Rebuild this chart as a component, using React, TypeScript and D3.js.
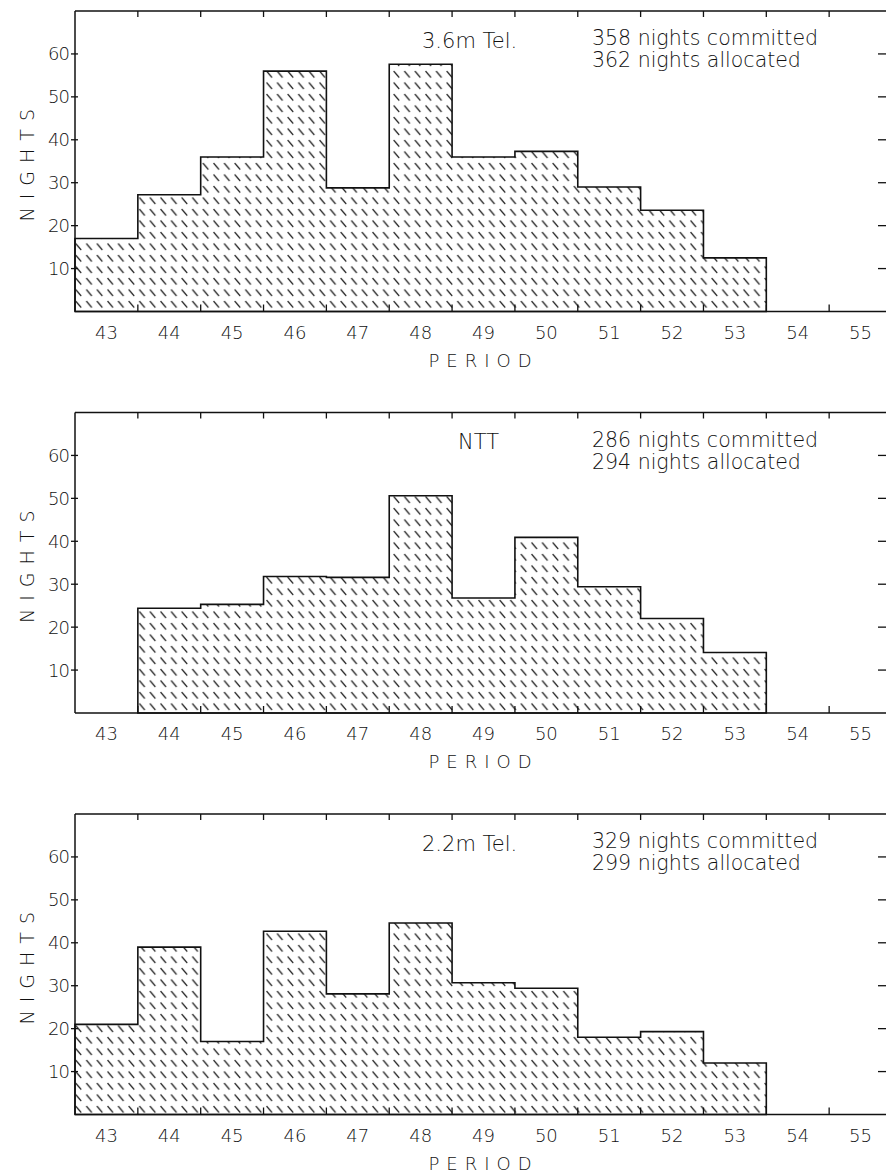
import React from "react";
import * as d3 from "d3";

const periods = [43, 44, 45, 46, 47, 48, 49, 50, 51, 52, 53, 54, 55];
const tel36 = [17, 27.2, 36, 56, 28.8, 57.6, 36, 37.3, 29, 23.6, 12.5, 0, 0];
const ntt = [0, 24.4, 25.3, 31.8, 31.6, 50.6, 26.8, 40.9, 29.4, 22, 14.1, 0, 0];
const tel22 = [21, 39, 17, 42.7, 28.1, 44.6, 30.7, 29.4, 18, 19.3, 12, 0, 0];
const yTicks = [10, 20, 30, 40, 50, 60];
const panelTitles = ["3.6m Tel.", "NTT", "2.2m Tel."];
const committedLines = ["358 nights committed", "286 nights committed", "329 nights committed"];
const allocatedLines = ["362 nights allocated", "294 nights allocated", "299 nights allocated"];
const seriesList = [tel36, ntt, tel22];

const W = 886;
const H = 1176;
const left = 75;
const right = 892;
const panelTop0 = 11;
const panelStep = 401.5;
const panelH = 300.5;
const FONT = "'DejaVu Sans', 'Open Sans', sans-serif";
const INK = "#111";

function Panel({ idx }: { idx: number }) {
  const top = panelTop0 + idx * panelStep;
  const bottom = top + panelH;
  const values = seriesList[idx];
  const x = d3.scaleLinear().domain([42.5, 55.5]).range([left, right]);
  const y = d3.scaleLinear().domain([0, 70]).range([bottom, top]);

  const pts: [number, number][] = [];
  const first = values.findIndex((v) => v > 0);
  let last = values.length - 1;
  while (last >= 0 && values[last] <= 0) last--;
  pts.push([x(periods[first] - 0.5), y(0)]);
  for (let i = first; i <= last; i++) {
    pts.push([x(periods[i] - 0.5), y(values[i])]);
    pts.push([x(periods[i] + 0.5), y(values[i])]);
  }
  pts.push([x(periods[last] + 0.5), y(0)]);
  const path = d3.line()(pts) + "Z";

  const edges = periods.map((p) => p + 0.5);

  return (
    <g>
      <path d={path} fill="url(#hatch)" stroke={INK} strokeWidth={1.6} />
      <line x1={left} x2={W + 10} y1={top} y2={top} stroke={INK} strokeWidth={1.4} />
      <line x1={left} x2={W + 10} y1={bottom} y2={bottom} stroke={INK} strokeWidth={1.7} />
      <line x1={left} x2={left} y1={top} y2={bottom} stroke={INK} strokeWidth={1.5} />
      <line x1={right} x2={right} y1={top} y2={bottom} stroke={INK} strokeWidth={1.5} />
      {edges.map((e) => (
        <g key={e}>
          <line x1={x(e)} x2={x(e)} y1={top} y2={top + 6} stroke={INK} strokeWidth={1.3} />
          <line x1={x(e)} x2={x(e)} y1={bottom} y2={bottom - 7} stroke={INK} strokeWidth={1.3} />
        </g>
      ))}
      {yTicks.map((t) => (
        <g key={t}>
          <line x1={left - 4} x2={left + 3} y1={y(t)} y2={y(t)} stroke={INK} strokeWidth={1.3} />
          <line x1={right - 14} x2={right} y1={y(t)} y2={y(t)} stroke={INK} strokeWidth={1.3} />
          <text x={69} y={y(t)} dy="0.36em" textAnchor="end" fontSize={18} fontFamily={FONT} fontWeight={200} letterSpacing={-1} fill={INK}>
            {t}
          </text>
        </g>
      ))}
      {periods.map((p) => (
        <text key={p} x={x(p)} y={bottom + 21} dy="0.36em" textAnchor="middle" fontSize={18} fontFamily={FONT} fontWeight={200} fill={INK}>
          {p}
        </text>
      ))}
      <text x={(left + right) / 2} y={bottom + 49} dy="0.36em" textAnchor="middle" fontSize={18} fontFamily={FONT} fontWeight={200} letterSpacing={7} fill={INK}>
        PERIOD
      </text>
      <text transform={`translate(27,${(top + bottom) / 2}) rotate(-90)`} dy="0.36em" textAnchor="middle" fontSize={19} fontFamily={FONT} fontWeight={200} letterSpacing={8} fill={INK}>
        NIGHTS
      </text>
      <text x={idx === 1 ? 458 : 422} y={top + 29} dy="0.36em" fontSize={21} fontFamily={FONT} fontWeight={200} fill={INK}>
        {panelTitles[idx]}
      </text>
      <text x={592} y={top + 27} dy="0.36em" fontSize={20.5} fontFamily={FONT} fontWeight={200} fill={INK}>
        {committedLines[idx]}
      </text>
      <text x={592} y={top + 49} dy="0.36em" fontSize={20.5} fontFamily={FONT} fontWeight={200} fill={INK}>
        {allocatedLines[idx]}
      </text>
    </g>
  );
}

export default function App() {
  return (
    <svg width={W} height={H} style={{ position: "absolute", left: 0, top: 0, background: "#fff" }}>
      <defs>
        <pattern id="hatch" patternUnits="userSpaceOnUse" width={10.6} height={11.5}>
          <line x1={1.5} y1={2} x2={7} y2={8.5} stroke={INK} strokeWidth={1.3} />
        </pattern>
      </defs>
      <rect x={0} y={0} width={W} height={H} fill="#fff" />
      {[0, 1, 2].map((i) => (
        <Panel key={i} idx={i} />
      ))}
    </svg>
  );
}
